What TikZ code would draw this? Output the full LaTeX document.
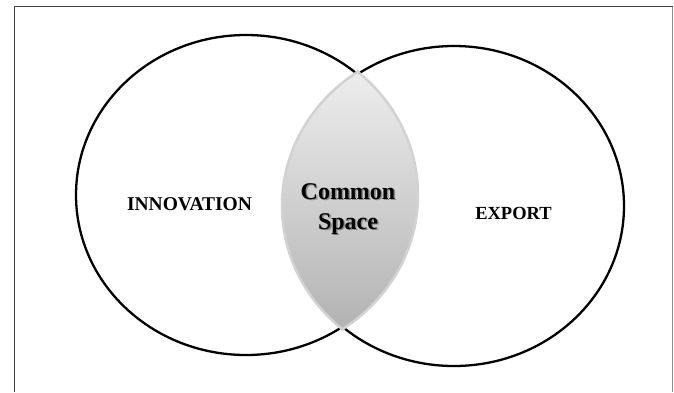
\documentclass[tikz,border=0pt]{standalone}
\usepackage{fontspec}
\setmainfont{Liberation Serif}
\tikzset{
  ring/.style={line width=2.3pt, draw=black},
  lensedge/.style={line width=2.5pt, draw=gray!35},
  setlabel/.style={font=\fontsize{18.5}{20}\selectfont\bfseries},
  commonlabel/.style={align=center, font=\fontsize{24}{30}\selectfont\bfseries}
}
\begin{document}
\begin{tikzpicture}[x=1pt,y=-1pt]

        \useasboundingbox (0,0) rectangle (674,392);

        % 绘制外框
        \draw[line width=1.5pt, draw=black!75] (14.5,392) -- (14.5,6.5) -- (672.5,6.5);
        \draw[line width=1.5pt, draw=black!45] (672.5,6.5) -- (672.5,392);

        % 绘制两个椭圆
        \draw[ring] (246,195) ellipse (170pt and 160pt); % 左椭圆
        \draw[ring] (454,206) ellipse (170pt and 160pt); % 右椭圆

        % 绘制公共区域(渐变填充)
        \begin{scope}
            \clip (246,195) ellipse (172pt and 162pt);
            \clip (454,206) ellipse (172pt and 162pt);
            \shade[top color=black!7, bottom color=black!30] (270,70) rectangle (430,330);
        \end{scope}

        % 公共区域的浅色边框
        \begin{scope}
            \clip (246,195) ellipse (173.5pt and 163.5pt);
            \draw[lensedge] (454,206) ellipse (172pt and 162pt);
        \end{scope}
        \begin{scope}
            \clip (454,206) ellipse (173.5pt and 163.5pt);
            \draw[lensedge] (246,195) ellipse (172pt and 162pt);
        \end{scope}

        % 标签
        \node[setlabel, font=\fontsize{19.5}{20}\selectfont\bfseries] (innovation) at (189.5,204) {INNOVATION};
        \node[setlabel] (export) at (513.5,213) {EXPORT};
        \node[commonlabel, text=black!45] (commonshadow) at (349.5,210.5) {Common\\Space};
        \node[commonlabel] (common) at (348,209) {Common\\Space};

\end{tikzpicture}
\end{document}
